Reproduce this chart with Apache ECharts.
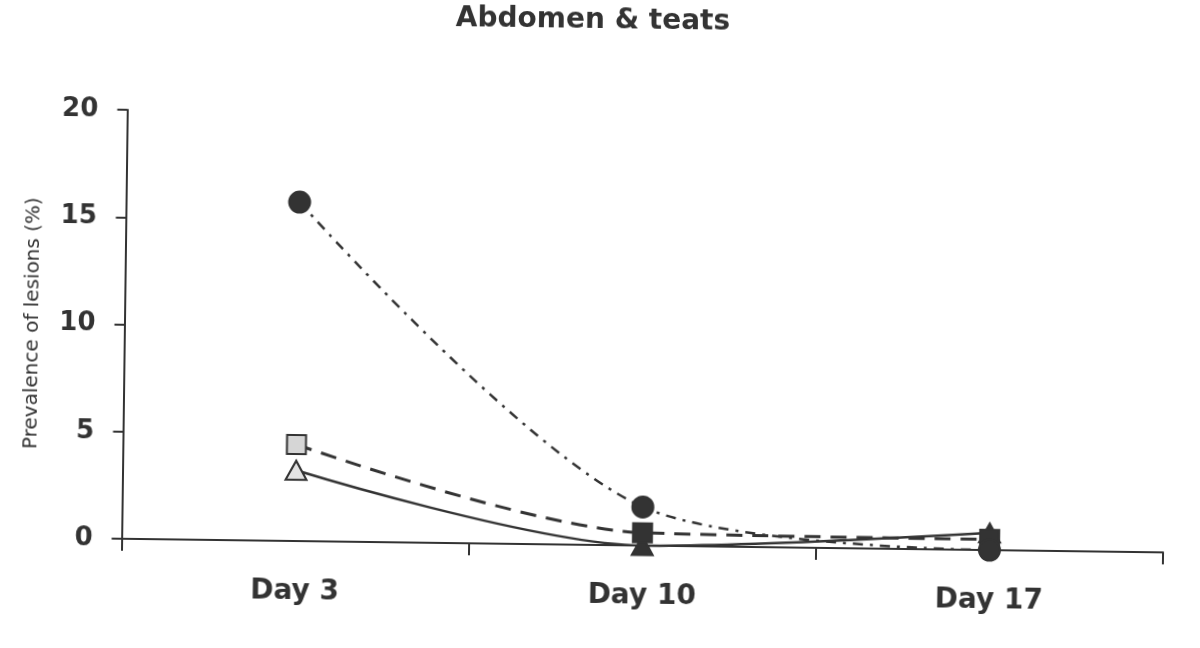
<!DOCTYPE html>
<html>
<head>
<meta charset="utf-8">
<script src="https://cdn.jsdelivr.net/npm/echarts@6/dist/echarts.min.js"></script>
<style>
  html, body { margin: 0; padding: 0; background: #fff; }
  /* the scanned figure sits slightly tilted */
  #chart-panel { width: 1200px; height: 648px; transform: rotate(0.75deg); transform-origin: 600px 324px; }
</style>
</head>
<body>
<div id="chart-panel"></div>
<script>
var days = ['Day 3', 'Day 10', 'Day 17'];
var circleVals = [15.8, 1.8, 0];
var squareVals = [4.5, 0.6, 0.5];
var triangleVals = [3.3, 0, 0.8];
var yTicks = [0, 5, 10, 15, 20];

var ink = '#333333';
var font = 'DejaVu Sans';

// first point light filled, others dark
function points(vals, lightFill) {
    return vals.map(function (v, i) {
        return {
            value: v,
            itemStyle: {
                color: (i === 0 && lightFill) ? lightFill : ink,
                borderColor: ink,
                borderWidth: 2
            }
        }
    })
}

var chartOption = {
    backgroundColor: '#fff',
    animation: false,
    title: {
        text: 'Abdomen & teats',
        left: 584,
        textAlign: 'center',
        top: 2,
        textStyle: {
            fontFamily: font,
            fontWeight: 'bold',
            fontSize: 28,
            color: '#333'
        }
    },
    grid: {
        left: 124.5,
        right: 34,
        top: 116,
        bottom: 103
    },
    xAxis: {
        type: 'category',
        data: days,
        boundaryGap: true,
        axisLine: { lineStyle: { color: ink, width: 2 } },
        axisTick: { show: true, length: 12, inside: false, lineStyle: { color: ink, width: 2 } },
        axisLabel: {
            margin: 37,
            fontFamily: font,
            fontWeight: 'bold',
            fontSize: 28,
            color: '#333'
        },
        splitLine: { show: false }
    },
    yAxis: {
        type: 'value',
        min: yTicks[0],
        max: yTicks[yTicks.length - 1],
        interval: 5,
        name: 'Prevalence of lesions (%)',
        nameLocation: 'middle',
        nameGap: 82,
        nameTextStyle: {
            fontFamily: font,
            fontSize: 20,
            color: '#333'
        },
        axisLine: { show: true, lineStyle: { color: ink, width: 2 } },
        axisTick: { show: true, length: 10, lineStyle: { color: ink, width: 2 } },
        axisLabel: {
            margin: 29,
            fontFamily: font,
            fontWeight: 'bold',
            fontSize: 26,
            color: '#333'
        },
        splitLine: { show: false }
    },
    series: [{
        name: 'triangle',
        type: 'line',
        smooth: 0.3,
        symbol: 'triangle',
        symbolSize: [21, 19],
        clip: false,
        lineStyle: { color: ink, width: 2.5, type: 'solid' },
        data: points(triangleVals, '#e2e2e2')
    }, {
        name: 'square',
        type: 'line',
        smooth: 0.3,
        symbol: 'rect',
        symbolSize: 19,
        clip: false,
        lineStyle: { color: ink, width: 3, type: [16, 10] },
        data: points(squareVals, '#d6d6d6')
    }, {
        name: 'circle',
        type: 'line',
        smooth: 0.3,
        symbol: 'circle',
        symbolSize: 21,
        clip: false,
        lineStyle: { color: ink, width: 2.5, type: [10, 7, 3, 7] },
        data: points(circleVals, null)
    }]
};

var myChart = echarts.init(document.getElementById('chart-panel'));
myChart.setOption(chartOption);
</script>
</body>
</html>
